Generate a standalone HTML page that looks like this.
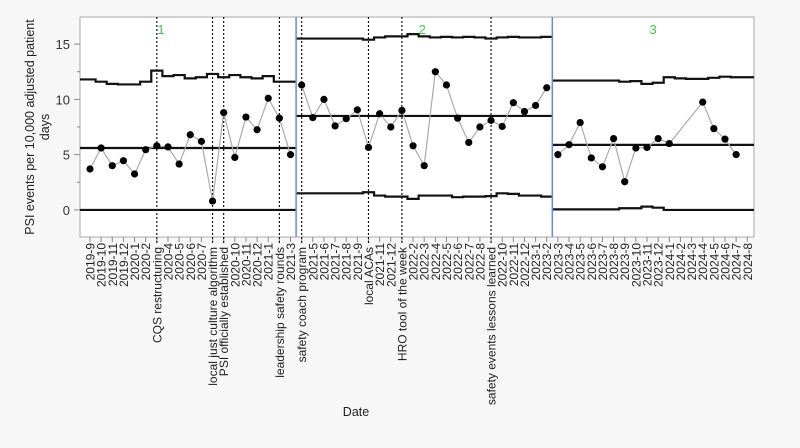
<!DOCTYPE html>
<html><head><meta charset="utf-8"><style>
html,body{margin:0;padding:0;background:#f7f7f7;}
svg{display:block;font-family:"Liberation Sans",sans-serif;}
</style></head><body>
<svg id="chart" width="800" height="448" viewBox="0 0 800 448"></svg>
<script>
const categories=["2019-9","2019-10","2019-11","2019-12","2020-1","2020-2","CQS restructuring","2020-4","2020-5","2020-6","2020-7","local just culture algorithm","PSI officially established","2020-10","2020-11","2020-12","2021-1","leadership safety rounds","2021-3","safety coach program","2021-5","2021-6","2021-7","2021-8","2021-9","local ACAs","2021-11","2021-12","HRO tool of the week","2022-2","2022-3","2022-4","2022-5","2022-6","2022-7","2022-8","safety events lessons learned","2022-10","2022-11","2022-12","2023-1","2023-2","2023-3","2023-4","2023-5","2023-6","2023-7","2023-8","2023-9","2023-10","2023-11","2023-12","2024-1","2024-2","2024-3","2024-4","2024-5","2024-6","2024-7","2024-8"];
const eventCategories=["CQS restructuring","local just culture algorithm","PSI officially established","leadership safety rounds","safety coach program","local ACAs","HRO tool of the week","safety events lessons learned"];
const values=[3.7,5.6,4.0,4.45,3.25,5.45,5.8,5.7,4.15,6.8,6.2,0.8,8.8,4.75,8.4,7.25,10.1,8.3,5.0,
11.3,8.35,10.0,7.6,8.25,9.05,5.65,8.7,7.5,9.0,5.8,4.0,12.5,11.3,8.3,6.1,7.5,8.1,7.55,9.7,8.9,9.45,11.05,
5.0,5.9,7.9,4.7,3.9,6.45,2.55,5.6,5.65,6.45,6.0,null,null,9.75,7.35,6.4,5.0,null];
const phaseStarts=[0,19,42];
const phaseNames=["1","2","3"];
const phaseMeans=[5.6,8.5,5.88];
const ucl=[11.8,11.6,11.4,11.35,11.35,11.6,12.6,12.1,12.2,11.9,12.0,12.3,12.0,12.2,12.0,11.9,12.1,11.6,11.6,
15.5,15.5,15.5,15.5,15.5,15.5,15.4,15.6,15.7,15.7,15.9,15.7,15.6,15.65,15.6,15.65,15.6,15.5,15.6,15.65,15.6,15.6,15.65,
11.7,11.7,11.7,11.7,11.7,11.7,11.6,11.65,11.4,11.5,12.0,11.9,11.85,11.85,11.95,12.05,12.0,12.0];
const lcl=[0,0,0,0,0,0,0,0,0,0,0,0,0,0,0,0,0,0,0,
1.5,1.5,1.5,1.5,1.5,1.5,1.6,1.3,1.2,1.2,1.0,1.3,1.3,1.3,1.15,1.2,1.2,1.25,1.5,1.45,1.3,1.3,1.2,
0.05,0.05,0.05,0.05,0.05,0.05,0.15,0.15,0.3,0.2,0,0,0,0,0,0,0,0];
const yTicks=[0,5,10,15];
const yMinorTicks=[-2.5,2.5,7.5,12.5,17.5];

const NS="http://www.w3.org/2000/svg";
const svg=document.getElementById('chart');
const L=80,R=754,T=17,B=237;
const x0=90,step=11.14;
const yMin=-2.45,yMax=17.45;
const X=i=>x0+i*step;
const Y=v=>B-(v-yMin)/(yMax-yMin)*(B-T);
function mk(tag,attrs,parent){const e=document.createElementNS(NS,tag);for(const k in attrs)e.setAttribute(k,attrs[k]);(parent||svg).appendChild(e);return e;}

const bg=mk('rect',{x:L,y:T,width:R-L,height:B-T,fill:'#fff',stroke:'#aaa','stroke-width':1});



yTicks.forEach(v=>{
 const t=mk('line',{x1:L-6,x2:L,y1:Y(v),y2:Y(v),stroke:'#888'});
 
 
 const lb=mk('text',{x:L-10,y:Y(v)+5,'text-anchor':'end','font-size':13,fill:'#333'});
 lb.textContent=v;
 
 
});
yMinorTicks.forEach(v=>{if(v<yMin||v>yMax)return;
 const t=mk('line',{x1:L-3,x2:L,y1:Y(v),y2:Y(v),stroke:'#888'});
 
 
});
const yt=mk('text',{transform:'translate(34,127) rotate(-90)','text-anchor':'middle','font-size':12.5,fill:'#222'});


const t1=mk('tspan',{x:0,dy:0},yt);t1.textContent='PSI events per 10,000 adjusted patient';
const t2=mk('tspan',{x:0,dy:15},yt);t2.textContent='days';

categories.forEach((c,i)=>{
 const isEv=eventCategories.includes(c);
 const t=mk('line',{x1:X(i),x2:X(i),y1:B,y2:B+5,stroke:'#888'});
 
 
 if(isEv){
  const d=mk('line',{x1:X(i),x2:X(i),y1:T,y2:B+8,stroke:'#111','stroke-width':1.2,'stroke-dasharray':'2,2'});
  
  
 }
 const lb=mk('text',{transform:`translate(${X(i)+4.5},${B+ (isEv?10:6)}) rotate(-90)`,'text-anchor':'end','font-size':12,fill:'#222'});
 lb.textContent=c;
 
 
});
const xt=mk('text',{x:356,y:416,'text-anchor':'middle','font-size':12.5,fill:'#222'});
xt.textContent='Date';



phaseStarts.forEach((s,p)=>{
 const e=p<phaseStarts.length-1?phaseStarts[p+1]:categories.length;
 const left=p===0?L:(X(s-1)+X(s))/2;
 const right=p===phaseStarts.length-1?R:(X(e-1)+X(e))/2;
 [ucl,lcl].forEach((arr,k)=>{
  let d='';
  for(let i=s;i<e;i++){
   const a=i===s?left:(X(i-1)+X(i))/2;
   const b=i===e-1?right:(X(i)+X(i+1))/2;
   d+=(i===s?'M':'L')+a+','+Y(arr[i])+'L'+b+','+Y(arr[i]);
  }
  const pth=mk('path',{d,fill:'none',stroke:'#111','stroke-width':2.2});
  
  
 });
 const m=mk('line',{x1:left,x2:right,y1:Y(phaseMeans[p]),y2:Y(phaseMeans[p]),stroke:'#111','stroke-width':2.2});
 
 
 if(p>0){
  const bl=mk('line',{x1:left,x2:left,y1:T,y2:B,stroke:'#5b8def','stroke-width':1.5});
  
  
 }
 const pl=mk('text',{x:(left+right)/2+ (p===0?-27:p===1?-2:0),y:34,'text-anchor':'middle','font-size':13,fill:'#4c4'});
 pl.textContent=phaseNames[p];
 
 
 let d='';let started=false;
 for(let i=s;i<e;i++){if(values[i]==null)continue;d+=(started?'L':'M')+X(i)+','+Y(values[i]);started=true;}
 const sl=mk('path',{d,fill:'none',stroke:'#aaa','stroke-width':1.2});
 
 
});
values.forEach((v,i)=>{
 if(v==null)return;
 const c=mk('circle',{cx:X(i),cy:Y(v),r:3.6,fill:'#000'});
 
 
});
</script>
</body></html>
